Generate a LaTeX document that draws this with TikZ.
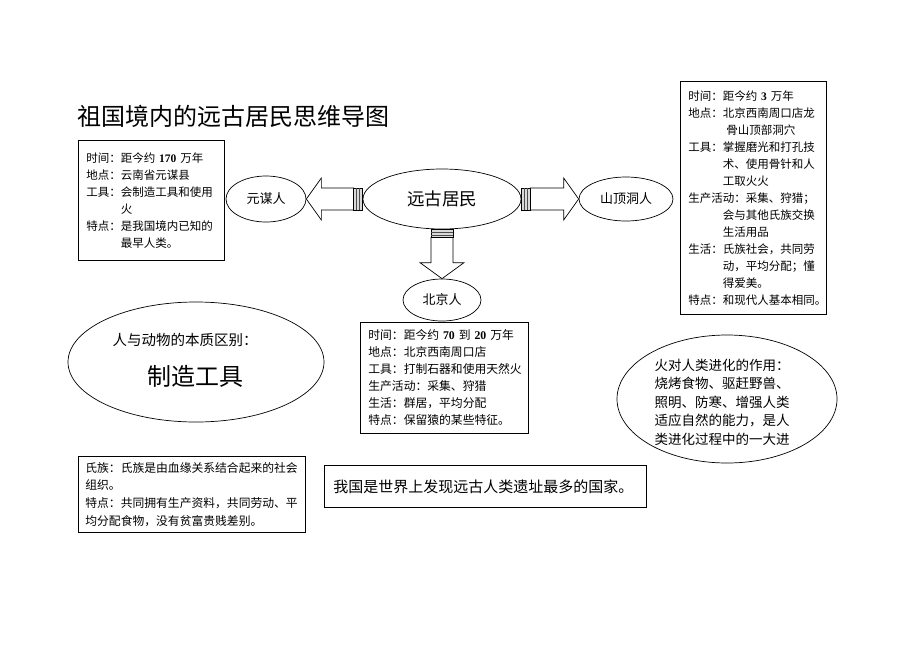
\documentclass[tikz,border=0pt]{standalone}
\usepackage{fontspec}
\setmainfont{Noto Sans CJK SC}
\newfontfamily\numf{Liberation Serif}
\usetikzlibrary{shapes.geometric,calc}
\begin{document}
\begin{tikzpicture}[x=1pt,y=-1pt,
 every node/.style={inner sep=0pt},
 ell/.style={draw, ellipse, line width=0.7pt},
 tbox/.style={draw, line width=0.7pt, anchor=north west, align=left, inner xsep=8pt, font=\fontsize{11.5}{17}\selectfont},
 fat/.style={draw, line width=0.7pt, fill=white},
 stripe/.style={draw, line width=0.6pt, fill=black!15},
 stripeline/.style={draw, line width=0.5pt, black!70}
]
\useasboundingbox (0,0) rectangle (920,651);

% title
\node[anchor=west, font=\fontsize{24}{28}\selectfont] (title) at (77,116) {祖国境内的远古居民思维导图};

% ellipses
\node[ell, minimum width=80pt, minimum height=46pt, font=\fontsize{13}{15}\selectfont] (ym) at (266,199) {元谋人};
\node[ell, minimum width=158pt, minimum height=60pt, font=\fontsize{17.5}{20}\selectfont] (yg) at (442,199) {远古居民};
\node[ell, minimum width=94pt, minimum height=44pt, font=\fontsize{13}{15}\selectfont] (sd) at (626,199) {山顶洞人};
\node[ell, minimum width=78pt, minimum height=42pt, font=\fontsize{13}{15}\selectfont] (bj) at (442,300) {北京人};

% left arrow
\draw[fat] (ym.east) -- ++(15,-21) -- ++(0,10) -- ($(yg.west)+(-9,-11)$) -- ++(0,22) -- ($(ym.east)+(15,11)$) -- ++(0,10) -- cycle;
\draw[stripe] ($(yg.west)+(-9,-11)$) rectangle ($(yg.west)+(0,11)$);
\foreach \d in {-6,-3}
  \draw[stripeline] ($(yg.west)+(\d,-11)$) -- ($(yg.west)+(\d,11)$);

% right arrow
\draw[fat] (sd.west) -- ++(-15,-21) -- ++(0,10) -- ($(yg.east)+(9,-11)$) -- ++(0,22) -- ($(sd.west)+(-15,11)$) -- ++(0,10) -- cycle;
\draw[stripe] ($(yg.east)+(0,-11)$) rectangle ($(yg.east)+(9,11)$);
\foreach \d in {3,6}
  \draw[stripeline] ($(yg.east)+(\d,-11)$) -- ($(yg.east)+(\d,11)$);

% down arrow
\draw[fat] (bj.north) -- ++(-22,-16) -- ++(11,0) -- ($(yg.south)+(-11,8)$) -- ++(22,0) -- ($(bj.north)+(11,-16)$) -- ++(11,0) -- cycle;
\draw[stripe] ($(yg.south)+(-11,0)$) rectangle ($(yg.south)+(11,8)$);
\foreach \d in {3,5.5}
  \draw[stripeline] ($(yg.south)+(-11,\d)$) -- ($(yg.south)+(11,\d)$);

% boxes
\node[tbox, text width=130pt, minimum height=120pt] (lb) at (78,140)
 {时间：距今约 {\numf\bfseries 170} 万年\\
  地点：云南省元谋县\\
  工具：会制造工具和使用\\
  \hspace*{3em}火\\
  特点：是我国境内已知的\\
  \hspace*{3em}最早人类。};

\node[tbox, text width=130pt, minimum height=233pt] (rb) at (680,81)
 {时间：距今约 {\numf\bfseries 3} 万年\\
  地点：北京西南周口店龙\\
  \hspace*{3.3em}骨山顶部洞穴\\
  工具：掌握磨光和打孔技\\
  \hspace*{3em}术、使用骨针和人\\
  \hspace*{3em}工取火火\\
  生产活动：采集、狩猎；\\
  \hspace*{3em}会与其他氏族交换\\
  \hspace*{3em}生活用品\\
  生活：氏族社会，共同劳\\
  \hspace*{3em}动，平均分配；懂\\
  \hspace*{3em}得爱美。\\
  特点：和现代人基本相同\makebox[0.5em][l]{。}};

\node[tbox, text width=152pt, minimum height=111pt, font=\fontsize{11.8}{17}\selectfont] (mb) at (360,322)
 {时间：距今约 {\numf\bfseries 70} 到 {\numf\bfseries 20} 万年\\
  地点：北京西南周口店\\
  工具：打制石器和使用天然火\\
  生产活动：采集、狩猎\\
  生活：群居，平均分配\\
  特点：保留猿的某些特征。};

\node[tbox, text width=213pt, inner xsep=7pt, minimum height=76pt, font=\fontsize{11.8}{17.7}\selectfont] (bl) at (78,456)
 {氏族：氏族是由血缘关系结合起来的社会\\
  组织。\\
  特点：共同拥有生产资料，共同劳动、平\\
  均分配食物，没有贫富贵贱差别。};

\node[tbox, text width=304pt, inner xsep=9pt, minimum height=42pt, font=\fontsize{15}{17}\selectfont] (bc) at (324,465)
 {我国是世界上发现远古人类遗址最多的国家。};

% essence ellipse
\node[ell, minimum width=256pt, minimum height=120pt] (ess) at (196,362) {};
\node[font=\fontsize{14.5}{16}\selectfont] (ess1) at (185,340) {人与动物的本质区别：};
\node[font=\fontsize{24}{28}\selectfont] (ess2) at (195,376) {制造工具};

% fire ellipse
\node[ell, minimum width=220pt, minimum height=128pt] (fire) at (727,399) {};
\node[align=left, font=\fontsize{13.5}{18.5}\selectfont] (firet) at (722,402)
 {火对人类进化的作用：\\
  烧烤食物、驱赶野兽、\\
  照明、防寒、增强人类\\
  适应自然的能力，是人\\
  类进化过程中的一大进};
\end{tikzpicture}
\end{document}
